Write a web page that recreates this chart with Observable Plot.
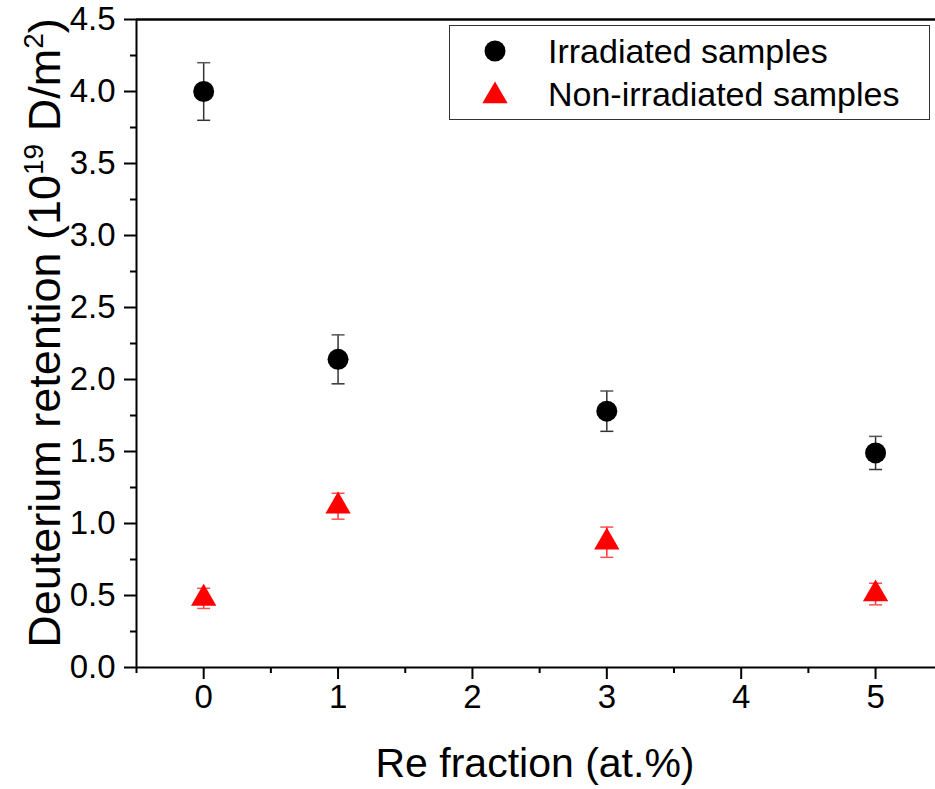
<!DOCTYPE html>
<html>
<head>
<meta charset="utf-8">
<script src="https://cdn.jsdelivr.net/npm/d3@7"></script>
<script src="https://cdn.jsdelivr.net/npm/@observablehq/plot@0.6"></script>
<style>
  html, body { margin: 0; padding: 0; background: #fff; }
  #chart { width: 935px; height: 789px; }
  svg { font-family: "Liberation Sans", Arial, sans-serif; }
</style>
</head>
<body>
<div id="chart"></div>
<script>
// Data
const reFraction = [0, 1, 3, 5];
const irradiated = [4.0, 2.14, 1.78, 1.49];
const irradiatedErr = [0.2, 0.17, 0.14, 0.115];
const nonIrradiated = [0.48, 1.12, 0.87, 0.51];
const nonIrradiatedErr = [0.07, 0.09, 0.105, 0.075];
const xTicks = [0, 1, 2, 3, 4, 5];
const xMinorTicks = [-0.5, 0.5, 1.5, 2.5, 3.5, 4.5];
const yTicks = [0, 0.5, 1, 1.5, 2, 2.5, 3, 3.5, 4, 4.5];
const yMinorTicks = [0.25, 0.75, 1.25, 1.75, 2.25, 2.75, 3.25, 3.75, 4.25];
const seriesNames = ["Irradiated samples", "Non-irradiated samples"];

const irr = reFraction.map((x, i) => ({x, y: irradiated[i], lo: irradiated[i] - irradiatedErr[i], hi: irradiated[i] + irradiatedErr[i]}));
const non = reFraction.map((x, i) => ({x, y: nonIrradiated[i], lo: nonIrradiated[i] - nonIrradiatedErr[i], hi: nonIrradiated[i] + nonIrradiatedErr[i]}));

const capSymbol = {draw(ctx) { ctx.moveTo(-6.5, 0); ctx.lineTo(6.5, 0); }};

const plot = Plot.plot({
  width: 935,
  height: 789,
  marginLeft: 136,
  marginRight: 0,
  marginTop: 19,
  marginBottom: 122,
  style: {fontFamily: "Liberation Sans, Arial, sans-serif", background: "#fff", color: "#000"},
  x: {domain: [-0.5, 5.446], label: null},
  y: {domain: [0, 4.5], label: null},
  marks: [
    // axes
    Plot.axisX({ticks: xTicks, tickSize: 12, tickPadding: 5, fontSize: 33, strokeWidth: 2, label: null, tickFormat: d3.format("d")}),
    Plot.axisX({ticks: xMinorTicks, tickSize: 6, strokeWidth: 2, label: null, tickFormat: () => ""}),
    Plot.axisY({ticks: yTicks, tickSize: 12, tickPadding: 9, fontSize: 33, strokeWidth: 2, label: null, tickFormat: d3.format(".1f")}),
    Plot.axisY({ticks: yMinorTicks, tickSize: 6, strokeWidth: 2, label: null, tickFormat: () => ""}),
    Plot.ruleX([-0.5], {stroke: "#000", strokeWidth: 2}),
    Plot.ruleY([0], {stroke: "#000", strokeWidth: 2}),
    Plot.ruleY([4.5], {stroke: "#000", strokeWidth: 2.5}),
    // error bars irradiated
    Plot.ruleX(irr, {x: "x", y1: "lo", y2: "hi", stroke: "#333", strokeWidth: 1.5}),
    Plot.dot(irr, {x: "x", y: "lo", symbol: capSymbol, stroke: "#333", strokeWidth: 1.5, fill: "none"}),
    Plot.dot(irr, {x: "x", y: "hi", symbol: capSymbol, stroke: "#555", strokeWidth: 1.5, fill: "none"}),
    Plot.dot(irr, {x: "x", y: "y", r: 10.5, fill: "#000", stroke: "none"}),
    // error bars non-irradiated
    Plot.ruleX(non, {x: "x", y1: "lo", y2: "hi", stroke: "#ff3030", strokeWidth: 1.5}),
    Plot.dot(non, {x: "x", y: "lo", symbol: capSymbol, stroke: "#ff5050", strokeWidth: 1.5, fill: "none"}),
    Plot.dot(non, {x: "x", y: "hi", symbol: capSymbol, stroke: "#ff5050", strokeWidth: 1.5, fill: "none"}),
    Plot.dot(non, {x: "x", y: "y", symbol: "triangle", r: 9.4, fill: "#ff0000", stroke: "none"})
  ]
});

document.getElementById("chart").appendChild(plot);

const svg = d3.select(plot);

// Axis titles
svg.append("text")
  .attr("x", 535).attr("y", 777)
  .attr("text-anchor", "middle")
  .attr("font-size", 41)
  .attr("fill", "#000")
  .text("Re fraction (at.%)");

const yt = svg.append("text")
  .attr("transform", "translate(60,333) rotate(-90)")
  .attr("text-anchor", "middle")
  .attr("font-size", 45)
  .attr("fill", "#000");
yt.append("tspan").text("Deuterium retention (10");
yt.append("tspan").attr("font-size", 28).attr("dy", -17).text("19");
yt.append("tspan").attr("dy", 17).text(" D/m");
yt.append("tspan").attr("font-size", 28).attr("dy", -17).text("2");
yt.append("tspan").attr("dy", 17).text(")");

// Legend
const lg = svg.append("g").attr("text-anchor", "start");
lg.append("rect").attr("x", 449.5).attr("y", 25.5).attr("width", 480).attr("height", 94)
  .attr("fill", "#fff").attr("stroke", "#333").attr("stroke-width", 1);
lg.append("circle").attr("cx", 495).attr("cy", 51).attr("r", 10.5).attr("fill", "#000");
lg.append("path").attr("d", d3.symbol(d3.symbolTriangle, Math.PI * 9.4 * 9.4)()).attr("transform", "translate(495,96)").attr("fill", "#ff0000");
lg.append("text").attr("x", 548).attr("y", 63).attr("text-anchor", "start").attr("font-size", 34).attr("fill", "#000").text(seriesNames[0]);
lg.append("text").attr("x", 548).attr("y", 106).attr("text-anchor", "start").attr("font-size", 34).attr("fill", "#000").text(seriesNames[1]);
</script>
</body>
</html>
